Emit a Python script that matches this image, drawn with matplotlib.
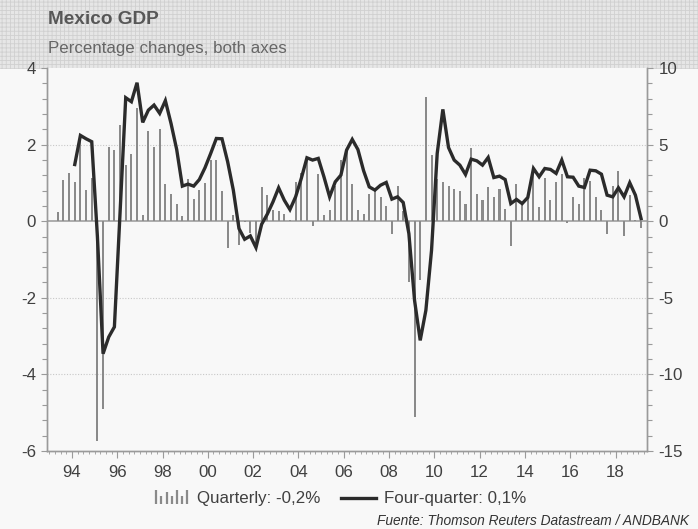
import numpy as np
import pandas as pd
import matplotlib
matplotlib.use("Agg")
import matplotlib.pyplot as plt
from matplotlib.patches import Rectangle
from matplotlib.lines import Line2D
from matplotlib.legend_handler import HandlerBase
from matplotlib.ticker import MultipleLocator, FuncFormatter

plt.rcParams['font.family'] = ['Liberation Sans', 'DejaVu Sans']
plt.rcParams['hatch.linewidth'] = 0.6
plt.rcParams['axes.unicode_minus'] = False

# ---------------- data ----------------
quarters = pd.period_range('1993Q2', '2019Q1', freq='Q')

quarterly = [
    0.24, 1.07, 1.25,                      # 1993 Q2-Q4
    1.03, 2.20, 0.81, 1.12,                # 1994
    -5.75, -4.90, 1.94, 1.87,              # 1995
    2.51, 1.46, 1.75, 2.95,                # 1996
    0.16, 2.35, 1.93, 2.42,                # 1997
    0.96, 0.72, 0.46, 0.14,                # 1998
    1.09, 0.57, 0.81, 1.01,                # 1999
    1.59, 1.61, 0.78, -0.70,               # 2000
    0.16, -0.61, -0.02, -0.32,             # 2001
    -0.58, 0.88, 0.68, 0.29,               # 2002
    0.27, 0.20, 0.02, 1.03,                # 2003
    1.26, 1.60, -0.12, 1.22,               # 2004
    0.16, 0.30, 0.92, 1.59,                # 2005
    1.90, 0.97, 0.30, 0.20,                # 2006
    0.70, 0.78, 0.64, 0.40,                # 2007
    -0.34, 0.92, 0.26, -1.59,              # 2008
    -5.10, -1.53, 3.25, 1.73,              # 2009
    1.09, 1.03, 0.92, 0.83,                # 2010
    0.79, 0.44, 1.92, 0.70,                # 2011
    0.55, 0.90, 0.64, 0.84,                # 2012
    0.33, -0.65, 0.96, 0.46,               # 2013
    0.64, 1.38, 0.37, 1.12,                # 2014
    0.55, 1.03, 1.23, -0.06,               # 2015
    0.64, 0.44, 1.12, 1.05,                # 2016
    0.64, 0.29, -0.34, 0.92,               # 2017
    1.32, -0.38, 0.68, 0.03,               # 2018
    -0.17,                                 # 2019 Q1
]

four_quarter = [
    np.nan, np.nan, np.nan,                # 1993 Q2-Q4
    3.70, 5.60, 5.38, 5.19,                # 1994
    -1.00, -8.65, -7.56, -6.90,            # 1995
    0.55, 8.06, 7.80, 9.04,                # 1996
    6.45, 7.25, 7.58, 7.04,                # 1997
    7.87, 6.38, 4.68, 2.29,                # 1998
    2.42, 2.29, 2.72, 3.49,                # 1999
    4.42, 5.40, 5.38, 3.88,                # 2000
    2.03, -0.48, -1.18, -0.96,             # 2001
    -1.72, -0.20, 0.46, 1.26,              # 2002
    2.18, 1.37, 0.76, 1.59,                # 2003
    2.79, 4.14, 3.99, 4.10,                # 2004
    2.90, 1.59, 2.57, 3.01,                # 2005
    4.64, 5.34, 4.68, 3.30,                # 2006
    2.24, 2.03, 2.35, 2.53,                # 2007
    1.44, 1.59, 1.22, -0.81,               # 2008
    -5.16, -7.78, -5.82, -1.90,            # 2009
    4.42, 7.30, 4.81, 3.99,                # 2010
    3.66, 3.05, 4.05, 3.94,                # 2011
    3.66, 4.16, 2.85, 2.94,                # 2012
    2.72, 1.15, 1.42, 1.15,                # 2013
    1.55, 3.44, 2.90, 3.44,                # 2014
    3.38, 3.12, 3.99, 2.90,                # 2015
    2.87, 2.29, 2.20, 3.33,                # 2016
    3.29, 3.07, 1.70, 1.59,                # 2017
    2.18, 1.59, 2.51, 1.70,                # 2018
    0.17,                                  # 2019 Q1
]

year_ticks = list(range(1994, 2019, 2))
title = "Mexico GDP"
subtitle = "Percentage changes, both axes"
legend_bar = "Quarterly: -0,2%"
legend_line = "Four-quarter: 0,1%"
source = "Fuente: Thomson Reuters Datastream / ANDBANK"

# decimal-year centre of each quarter
x = np.array([p.year + (p.quarter - 0.5) / 4 for p in quarters])

# ---------------- style ----------------
BG = '#f8f8f8'
BAR = '#8a8a8a'
LINE = '#2b2b2b'
AX = '#9a9a9a'
TXT = '#404040'

W, H = 698, 529
fig = plt.figure(figsize=(W / 100, H / 100), dpi=100, facecolor=BG)

# header band with fine texture
hdr = Rectangle((0, 1 - 69 / H), 1, 69 / H, transform=fig.transFigure,
                facecolor='#e6e6e6', edgecolor='#d0d0d0', hatch='++++',
                linewidth=0, zorder=-5)
fig.patches.append(hdr)

ax = fig.add_axes([47 / W, 1 - 451 / H, (647.3 - 47) / W, (451 - 68) / H])
ax.set_facecolor(BG)
ax2 = ax.twinx()

ax.bar(x, quarterly, width=0.09, color=BAR, zorder=2, linewidth=0)
ax.axhline(0, color='#a0a0a0', linewidth=1.2, zorder=1)
ax2.plot(x, four_quarter, color=LINE, linewidth=2.4, zorder=3,
         solid_joinstyle='miter')

ax.set_xlim(1992.9, 2019.4)
ax.set_ylim(-6, 4)
ax2.set_ylim(-15, 10)

for a in (ax, ax2):
    for s in a.spines.values():
        s.set_color(AX)
        s.set_linewidth(1.0)
    a.spines['top'].set_visible(False)

ax.yaxis.set_major_locator(MultipleLocator(2))
ax.yaxis.set_minor_locator(MultipleLocator(0.4))
ax2.yaxis.set_major_locator(MultipleLocator(5))
ax2.yaxis.set_minor_locator(MultipleLocator(1))
ax.xaxis.set_major_locator(plt.FixedLocator(year_ticks))
ax.xaxis.set_minor_locator(MultipleLocator(0.25))
ax.xaxis.set_major_formatter(FuncFormatter(lambda v, p: f"{int(round(v)) % 100:02d}"))

ax.tick_params(axis='y', which='major', length=4, width=0.8, color=AX,
               labelsize=12.2, labelcolor=TXT, pad=4)
ax.tick_params(axis='y', which='minor', length=3.5, width=0.8, color=AX)
ax2.tick_params(axis='y', which='major', length=4, width=0.8, color=AX,
                labelsize=12.2, labelcolor=TXT, pad=4)
ax2.tick_params(axis='y', which='minor', length=3.5, width=0.8, color=AX)
ax.tick_params(axis='x', which='major', length=5, width=0.8, color=AX,
               labelsize=12.2, labelcolor=TXT, pad=5)
ax.tick_params(axis='x', which='minor', length=2.5, width=0.6, color=AX)

for v in (2, -2, -4):
    ax.axhline(v, color='#c8c8c8', linewidth=0.8, linestyle=(0, (1, 1.5)), zorder=0.5)

# titles
fig.text(48 / W, 1 - 19 / H, title, fontsize=13.7, fontweight='bold',
         color='#575757', va='center', ha='left')
fig.text(48 / W, 1 - 48 / H, subtitle, fontsize=12.2, color='#666666',
         va='center', ha='left')


# legend with custom bar icon
class BarIconHandler(HandlerBase):
    def create_artists(self, legend, orig_handle, xdescent, ydescent,
                       width, height, fontsize, trans):
        heights = [1.0, 0.55, 0.85, 0.55, 1.0, 0.55, 1.0]
        n = len(heights)
        arts = []
        for k, hh in enumerate(heights):
            xx = xdescent + width * (k + 0.5) / n
            y0 = -ydescent
            y1 = y0 + height * 1.1 * hh
            arts.append(Line2D([xx, xx], [y0, y1], color=BAR, linewidth=1.6,
                               transform=trans, solid_capstyle='butt'))
        return arts


bar_proxy = Rectangle((0, 0), 1, 1, color=BAR)
line_proxy = Line2D([0], [0], color=LINE, linewidth=2.4)
leg = fig.legend([bar_proxy, line_proxy], [legend_bar, legend_line],
                 handler_map={Rectangle: BarIconHandler()},
                 loc='center', bbox_to_anchor=(340 / W, 1 - 499 / H),
                 ncol=2, frameon=False, fontsize=12.2, handlelength=2.1,
                 handletextpad=0.45, columnspacing=1.2, borderpad=0)
for t in leg.get_texts():
    t.set_color(TXT)

fig.text(689 / W, 1 - 521 / H, source, fontsize=9.9, style='italic',
         color='#333333', ha='right', va='center')

fig.savefig('out.png', dpi=100, facecolor=BG)
